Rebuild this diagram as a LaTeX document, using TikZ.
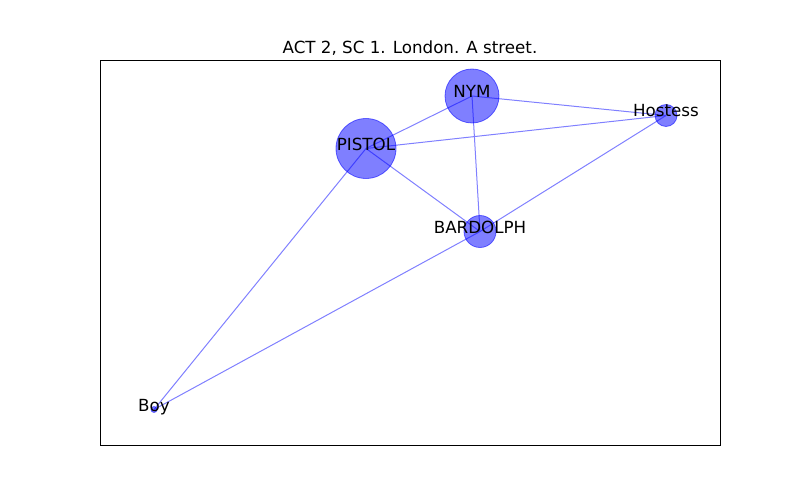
\documentclass[tikz,border=0pt]{standalone}
\usepackage{fontspec}
\setmainfont{DejaVu Sans}
\usetikzlibrary{positioning}

\begin{document}
\begin{tikzpicture}[%
    ,x=1pt,y=-1pt
    ,person/.style = {%
        ,circle,inner sep=0pt
        ,fill=blue,fill opacity=0.5
        ,draw=blue,draw opacity=0.55,line width=0.8pt
        }
    ,charname/.style = {%
        ,anchor=base,inner sep=0pt
        ,font=\fontsize{16.7}{20}\selectfont
        }
    ,tie/.style = {blue!50,line width=1pt}
    ]
\useasboundingbox (0,0) rectangle (800,500);
\draw[line width=0.9pt] (100,60) rectangle (720,445);
\node (title) [charname] at (410,54) {ACT 2, SC 1. London. A street.};

% Characters
\coordinate (nym)      at (472,96);
\coordinate (pistol)   at (366,148.5);
\coordinate (hostess)  at (666,115.5);
\coordinate (bardolph) at (480,231.5);
\coordinate (boy)      at (154,409.5);

% Edges
\foreach \a/\b in {nym/hostess, nym/pistol, nym/bardolph, pistol/hostess,
                   pistol/bardolph, pistol/boy, hostess/bardolph, bardolph/boy}
    \draw[tie] (\a) -- (\b);

\node (nymc)      [person, minimum size=54pt] at (nym)      {};
\node (pistolc)   [person, minimum size=60pt] at (pistol)   {};
\node (hostessc)  [person, minimum size=22pt] at (hostess)  {};
\node (bardolphc) [person, minimum size=32pt] at (bardolph) {};
\node (boyc)      [person, minimum size=6pt]  at (boy)      {};

\node (nymt)      [charname] at ([yshift=-1.5pt]nym)      {NYM};
\node (pistolt)   [charname] at ([yshift=-1.5pt]pistol)   {PISTOL};
\node (hostesst)  [charname] at ([yshift=-1.5pt]hostess)  {Hostess};
\node (bardolpht) [charname] at ([yshift=-1.5pt]bardolph) {BARDOLPH};
\node (boyt)      [charname] at ([yshift=-1.5pt]boy)      {Boy};
\end{tikzpicture}
\end{document}
